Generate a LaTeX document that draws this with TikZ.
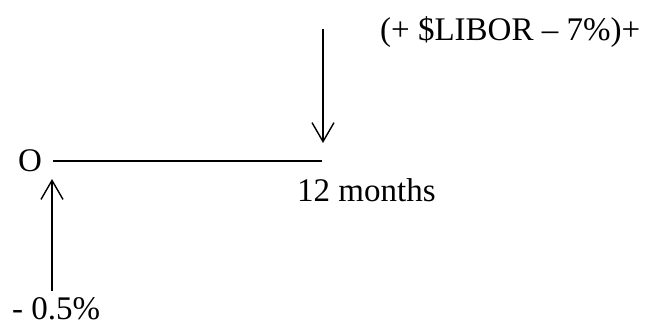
\documentclass[tikz,border=0pt]{standalone}
\usepackage{fontspec}
\setmainfont{Liberation Serif}
\usetikzlibrary{arrows.meta}
\tikzset{
  lbl/.style={inner sep=0pt, font=\fontsize{33}{36}\selectfont},
  arr/.style={line width=1.4pt, -{Straight Barb[length=19pt,width=22pt,line width=1.4pt]}},
  tline/.style={line width=1.6pt}
}
\begin{document}
\begin{tikzpicture}[x=1pt,y=-1pt]
\useasboundingbox (0,0) rectangle (650,325);
\node[lbl, anchor=base west] (libor) at (380,40) {(+ \$LIBOR – 7\%)+};
\coordinate (dtop) at (323,29);
\coordinate (dtip) at (323,143);
\draw[arr] (dtop) -- (dtip);
\node[lbl, anchor=center] (o) at (30,161) {O};
\coordinate (tend) at (322,161);
\draw[tline, shorten <=11pt] (o.east) -- (tend);
\node[lbl, anchor=base west] (m12) at (297,201) {12 months};
\coordinate (ubot) at (52,291);
\coordinate (utip) at (52,179);
\draw[arr] (ubot) -- (utip);
\node[lbl, anchor=base west] (pct) at (12,319) {- 0.5\%};
\end{tikzpicture}
\end{document}
